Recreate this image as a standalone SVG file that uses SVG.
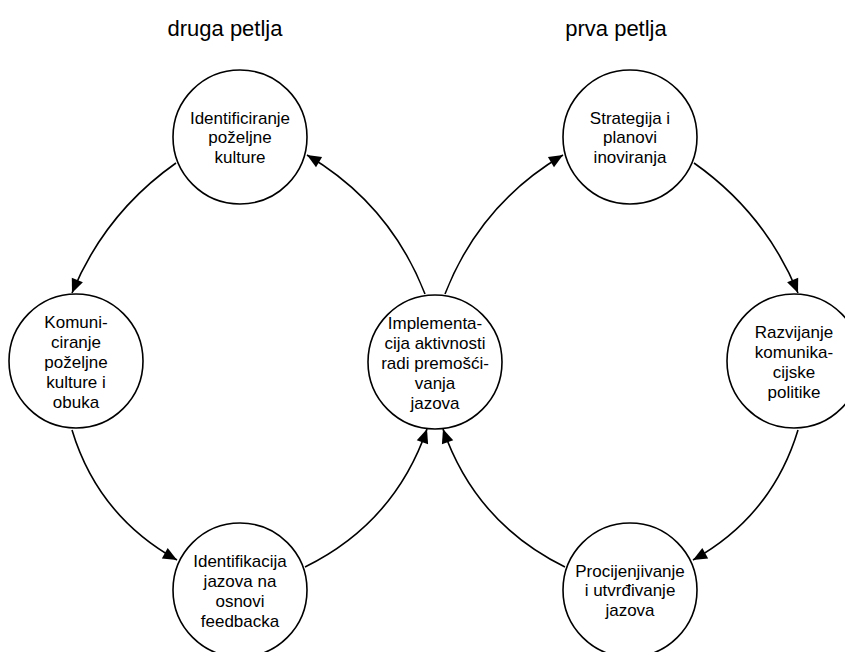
<svg xmlns="http://www.w3.org/2000/svg" width="845" height="652" viewBox="0 0 845 652">
<style>
.node circle{fill:#fff;stroke:#000;stroke-width:1.6}
.node text,.title{font-family:"Liberation Sans",Arial,sans-serif;fill:#000;text-anchor:middle}
.node text{font-size:17px}
.title{font-size:22px}
.conn path{fill:none;stroke:#000;stroke-width:1.6;marker-end:url(#arr)}
</style>
<defs>
<marker id="arr" markerUnits="userSpaceOnUse" markerWidth="16" markerHeight="14" viewBox="0 0 16 14" refX="15" refY="7" orient="auto">
<path d="M1,1 L15,7 L1,13 Z" fill="#000"/>
</marker>
</defs>
<rect width="845" height="652" fill="#fff"/>
<text class="title" x="225" y="36">druga petlja</text>
<text class="title" x="616" y="36">prva petlja</text>
<g class="conn" id="connectors">
<path d="M176,163 Q105,213 72,293"/>
<path d="M72,430 Q98,516 177,560"/>
<path d="M305,567 Q394.5,523 427,429"/>
<path d="M425,294 Q390,204 307,155"/>
<path d="M445,294 Q480,204 563,155"/>
<path d="M694,163 Q765,213 798,293"/>
<path d="M798,430 Q772,516 693,560"/>
<path d="M565,567 Q475.5,523 443,429"/>
</g>
<g class="node" id="n-identificiranje">
<circle cx="240" cy="137" r="67"/>
<text x="240"><tspan x="240" y="123.5">Identificiranje</tspan><tspan x="240" y="143">poželjne</tspan><tspan x="240" y="162.5">kulture</tspan></text>
</g>
<g class="node" id="n-komuniciranje">
<circle cx="76" cy="361" r="67"/>
<text><tspan x="76" y="328">Komuni-</tspan><tspan x="76" y="348">ciranje</tspan><tspan x="76" y="368">poželjne</tspan><tspan x="76" y="388">kulture i</tspan><tspan x="76" y="408">obuka</tspan></text>
</g>
<g class="node" id="n-identifikacija">
<circle cx="240" cy="590" r="67"/>
<text><tspan x="240" y="567">Identifikacija</tspan><tspan x="240" y="587">jazova na</tspan><tspan x="240" y="607">osnovi</tspan><tspan x="240" y="627">feedbacka</tspan></text>
</g>
<g class="node" id="n-implementacija">
<circle cx="435" cy="362" r="67"/>
<text><tspan x="435" y="329">Implementa-</tspan><tspan x="435" y="349">cija aktivnosti</tspan><tspan x="435" y="369">radi premošći-</tspan><tspan x="435" y="389">vanja</tspan><tspan x="435" y="409">jazova</tspan></text>
</g>
<g class="node" id="n-strategija">
<circle cx="630" cy="137" r="67"/>
<text><tspan x="630" y="123.5">Strategija i</tspan><tspan x="630" y="143">planovi</tspan><tspan x="630" y="162.5">inoviranja</tspan></text>
</g>
<g class="node" id="n-razvijanje">
<circle cx="794" cy="361" r="67"/>
<text><tspan x="794" y="338">Razvijanje</tspan><tspan x="794" y="358">komunika-</tspan><tspan x="794" y="378">cijske</tspan><tspan x="794" y="398">politike</tspan></text>
</g>
<g class="node" id="n-procijenjivanje">
<circle cx="630" cy="590" r="67"/>
<text><tspan x="630" y="576.5">Procijenjivanje</tspan><tspan x="630" y="596">i utvrđivanje</tspan><tspan x="630" y="615.5">jazova</tspan></text>
</g>
</svg>
